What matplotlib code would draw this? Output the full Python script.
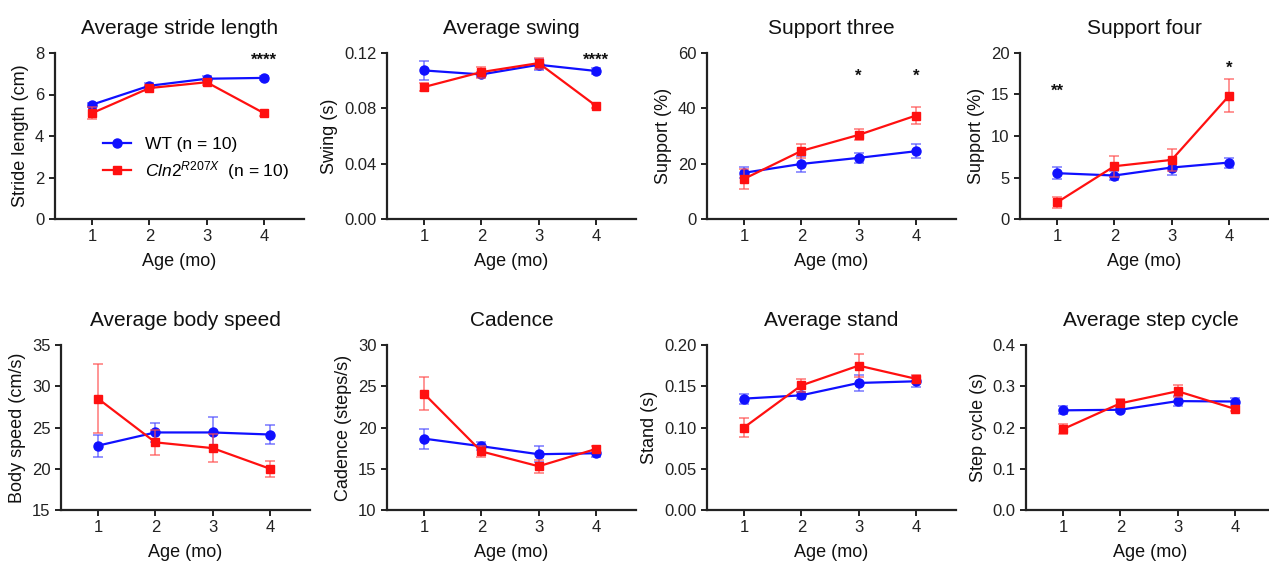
import matplotlib.pyplot as plt
from matplotlib.lines import Line2D
import numpy as np

plt.rcParams['font.family'] = ['Liberation Sans', 'DejaVu Sans']
plt.rcParams['mathtext.fontset'] = 'custom'
plt.rcParams['mathtext.rm'] = 'Liberation Sans'
plt.rcParams['mathtext.it'] = 'Liberation Sans:italic'

ages = [1, 2, 3, 4]

titles = ['Average stride length', 'Average swing', 'Support three', 'Support four',
          'Average body speed', 'Cadence', 'Average stand', 'Average step cycle']
ylabels = ['Stride length (cm)', 'Swing (s)', 'Support (%)', 'Support (%)',
           'Body speed (cm/s)', 'Cadence (steps/s)', 'Stand (s)', 'Step cycle (s)']
yticks = [[0, 2, 4, 6, 8], [0.00, 0.04, 0.08, 0.12], [0, 20, 40, 60], [0, 5, 10, 15, 20],
          [15, 20, 25, 30, 35], [10, 15, 20, 25, 30], [0.00, 0.05, 0.10, 0.15, 0.20],
          [0.0, 0.1, 0.2, 0.3, 0.4]]
ytickfmt = ['%d', '%.2f', '%d', '%d', '%d', '%d', '%.2f', '%.1f']

# WT means / SEM
wtMean = [[5.51, 6.42, 6.76, 6.80],
          [0.1074, 0.1045, 0.1115, 0.1070],
          [16.7, 19.9, 22.1, 24.5],
          [5.52, 5.24, 6.2, 6.8],
          [22.8, 24.4, 24.4, 24.15],
          [18.65, 17.73, 16.76, 16.88],
          [0.135, 0.139, 0.154, 0.156],
          [0.2416, 0.243, 0.264, 0.263]]
wtErr = [[0.1, 0.15, 0.12, 0.1],
         [0.007, 0.002, 0.004, 0.002],
         [2.0, 2.8, 1.8, 2.5],
         [0.7, 0.6, 0.9, 0.6],
         [1.35, 1.2, 1.9, 1.2],
         [1.2, 0.5, 1.0, 0.4],
         [0.006, 0.004, 0.01, 0.007],
         [0.01, 0.005, 0.013, 0.008]]

# Cln2 R207X means / SEM
mutMean = [[5.1, 6.31, 6.59, 5.1],
           [0.0954, 0.1062, 0.1127, 0.0818],
           [14.5, 24.6, 30.4, 37.4],
           [2.0, 6.36, 7.12, 14.84],
           [28.5, 23.2, 22.5, 20.0],
           [24.1, 17.1, 15.3, 17.4],
           [0.100, 0.151, 0.175, 0.159],
           [0.196, 0.2586, 0.288, 0.245]]
mutErr = [[0.3, 0.15, 0.15, 0.12],
          [0.003, 0.004, 0.004, 0.0015],
          [3.5, 2.5, 2.0, 3.0],
          [0.65, 1.25, 1.35, 2.0],
          [4.2, 1.5, 1.7, 1.0],
          [2.0, 0.7, 0.8, 0.3],
          [0.011, 0.008, 0.014, 0.005],
          [0.012, 0.01, 0.015, 0.005]]

# significance marks: (panel, age, y, text)
stars = [(0, 4, 7.65, '****'), (1, 4, 0.1147, '****'),
         (2, 3, 51.5, '*'), (2, 4, 51.5, '*'),
         (3, 1, 15.4, '**'), (3, 4, 18.2, '*')]

W, H = 1269, 570
fig = plt.figure(figsize=(W / 100, H / 100), dpi=100)

# pixel position of tick "1" for each panel, row top/bottom in pixels
tick1 = [92, 424, 744, 1057, 98, 424, 744, 1063]
rows = [(53, 219), (345, 510)]
unit = 57.33
xlo, xhi = 0.35, 4.7

blue = '#1010ff'
red = '#ff1010'
dark = '#222222'

axes = []
for i in range(8):
    top, bot = rows[i // 4]
    left = tick1[i] - (1 - xlo) * unit
    width = (xhi - xlo) * unit
    ax = fig.add_axes([left / W, (H - bot) / H, width / W, (bot - top) / H])
    axes.append(ax)

    ax.errorbar(ages, wtMean[i], yerr=wtErr[i], color=blue, marker='o', ms=6.5,
                lw=1.6, ecolor=(0.3, 0.3, 1.0, 0.6), elinewidth=1.4, capsize=3.5,
                capthick=1.4, zorder=3)
    ax.errorbar(ages, mutMean[i], yerr=mutErr[i], color=red, marker='s', ms=6,
                lw=1.6, ecolor=(1.0, 0.3, 0.3, 0.6), elinewidth=1.4, capsize=3.5,
                capthick=1.4, zorder=4)

    ax.set_xlim(xlo, xhi)
    ax.set_ylim(yticks[i][0], yticks[i][-1])
    ax.set_xticks(ages)
    ax.set_yticks(yticks[i])
    ax.set_yticklabels([ytickfmt[i] % v for v in yticks[i]])
    ax.tick_params(labelsize=12, colors=dark, length=4, width=1.4, direction='out')
    for s in ['top', 'right']:
        ax.spines[s].set_visible(False)
    for s in ['left', 'bottom']:
        ax.spines[s].set_linewidth(1.6)
        ax.spines[s].set_color(dark)
    ax.set_title(titles[i], fontsize=15, pad=14, color='#111111')
    ax.set_xlabel('Age (mo)', fontsize=13, color='#111111', labelpad=6)
    ax.set_ylabel(ylabels[i], fontsize=13, color='#111111', labelpad=4)

for p, a, y, t in stars:
    axes[p].text(a, y, t, ha='center', va='center', fontsize=12, fontweight='bold',
                 color='#111111')

handles = [Line2D([], [], color=blue, marker='o', ms=6.5, lw=1.6),
           Line2D([], [], color=red, marker='s', ms=6, lw=1.6)]
labels = ['WT (n = 10)', r'$\mathit{Cln2}^{\mathit{R207X}}$  (n = 10)']
axes[0].legend(handles, labels, loc='center left', bbox_to_anchor=(0.16, 0.36),
               frameon=False, fontsize=12.5, handlelength=1.6, handletextpad=0.8,
               labelspacing=0.4, borderpad=0)

fig.savefig('out.png', dpi=100)
